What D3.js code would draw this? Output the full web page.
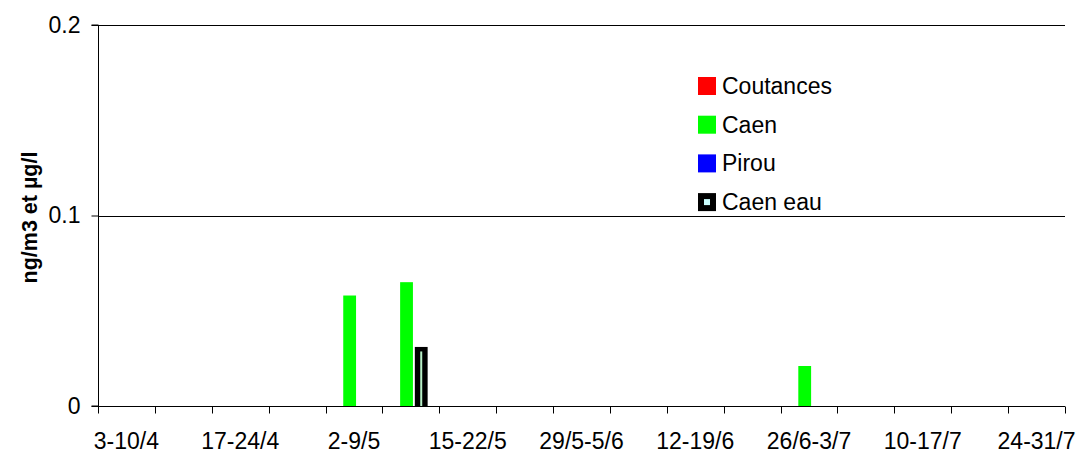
<!DOCTYPE html>
<html>
<head>
<meta charset="utf-8">
<script src="https://cdn.jsdelivr.net/npm/d3@7"></script>
<style>
  html, body { margin: 0; padding: 0; background: #fff; }
  svg { display: block; font-family: 'Liberation Sans', Arial, sans-serif; }
</style>
</head>
<body>
<svg id="chart" width="1077" height="452"></svg>
<script>
// weekly sampling periods (only every other one is labelled on the axis)
const categories = ['3-10/4','10-17/4','17-24/4','24/4-1/5','2-9/5','9-15/5','15-22/5','22-29/5',
  '29/5-5/6','5-12/6','12-19/6','19-26/6','26/6-3/7','3-10/7','10-17/7','17-24/7','24-31/7'];
const shownLabels = ['3-10/4','17-24/4','2-9/5','15-22/5','29/5-5/6','12-19/6','26/6-3/7','10-17/7','24-31/7'];

const coutances = [0,0,0,0,0,0,0,0,0,0,0,0,0,0,0,0,0];
const caen      = [0,0,0,0,0.058,0.065,0,0,0,0,0,0,0.021,0,0,0,0];
const pirou     = [0,0,0,0,0,0,0,0,0,0,0,0,0,0,0,0,0];
const caenEau   = [0,0,0,0,0,0.031,0,0,0,0,0,0,0,0,0,0,0];

const seriesNames = ['Coutances','Caen','Pirou','Caen eau'];
const yTicks = [0, 0.1, 0.2];

(function(){
  const svg = d3.select('#chart');
  const left = 98, right = 1065, top = 25, bottom = 406;

  const x = d3.scaleBand().domain(categories).range([left, right]).padding(0);
  const y = d3.scaleLinear().domain([0, 0.2]).range([bottom, top]);

  // bar slots inside a week; "Caen eau" sits in the Pirou slot as in the original
  const bw = x.bandwidth();
  const slot = d3.scaleBand().domain(['Coutances','Caen','Pirou'])
    .range([bw*0.053, bw*0.053 + bw*0.742]).paddingInner(0.129).paddingOuter(0);
  const slotOf = { 'Coutances':'Coutances', 'Caen':'Caen', 'Pirou':'Pirou', 'Caen eau':'Pirou' };

  const series = [
    { name:'Coutances', values: coutances, color:'#ff0000' },
    { name:'Caen',      values: caen,      color:'#00ff00' },
    { name:'Pirou',     values: pirou,     color:'#0000ff' },
    { name:'Caen eau',  values: caenEau,   color:'#ccffff', outline:true }
  ];

  // gridlines
  svg.append('g').selectAll('line')
    .data(yTicks.filter(d => d > 0))
    .enter().append('line')
    .attr('x1', left).attr('x2', right)
    .attr('y1', d => Math.round(y(d)) + 0.5).attr('y2', d => Math.round(y(d)) + 0.5)
    .attr('stroke', '#000').attr('stroke-width', 1);

  // bars
  series.forEach(s => {
    const g = svg.append('g');
    const data = s.values.map((v, i) => ({ cat: categories[i], v })).filter(d => d.v > 0);
    g.selectAll('rect.outer')
      .data(data).enter().append('rect')
      .attr('x', d => x(d.cat) + slot(slotOf[s.name]))
      .attr('y', d => y(d.v))
      .attr('width', slot.bandwidth())
      .attr('height', d => y(0) - y(d.v))
      .attr('fill', s.outline ? '#000' : s.color);
    if (s.outline) {
      const inset = 5.4;
      g.selectAll('rect.inner')
        .data(data).enter().append('rect')
        .attr('x', d => x(d.cat) + slot(slotOf[s.name]) + inset)
        .attr('y', d => y(d.v) + 4.5)
        .attr('width', slot.bandwidth() - 2*inset)
        .attr('height', d => y(0) - y(d.v) - 4.5)
        .attr('fill', '#b8f0c8');
    }
  });

  // y axis
  const yAxis = d3.axisLeft(y).tickValues(yTicks).tickSize(7).tickPadding(11)
    .tickFormat(d => d === 0 ? '0' : d3.format('.1f')(d));
  const gy = svg.append('g').attr('transform', `translate(${left + 0.5},0)`).call(yAxis);
  gy.select('.domain').attr('stroke', '#000').attr('d', `M-7,${top}H0V${bottom}H-7`);
  gy.selectAll('.tick line').attr('stroke', '#000');
  gy.selectAll('.tick text').attr('font-size', 23).attr('font-family', "'Liberation Sans', Arial").attr('fill', '#000');

  // x axis: boundary ticks + centred labels
  const gx = svg.append('g').attr('transform', `translate(0,${bottom + 0.5})`);
  gx.append('line').attr('x1', left).attr('x2', right).attr('stroke', '#000');
  const bounds = categories.map(c => x(c)).concat([right]);
  gx.selectAll('line.tk').data(bounds).enter().append('line')
    .attr('class', 'tk')
    .attr('x1', d => Math.round(d) + 0.5).attr('x2', d => Math.round(d) + 0.5)
    .attr('y1', 0).attr('y2', 7).attr('stroke', '#000');
  gx.selectAll('text').data(shownLabels).enter().append('text')
    .attr('x', d => x(d) + bw/2)
    .attr('y', 42)
    .attr('text-anchor', 'middle')
    .attr('font-size', 23)
    .attr('fill', '#000')
    .text(d => d);

  // y axis title
  svg.append('text')
    .attr('transform', `translate(37,${(top + bottom)/2 + 2}) rotate(-90)`)
    .attr('text-anchor', 'middle')
    .attr('font-size', 21.5)
    .attr('font-weight', 'bold')
    .attr('fill', '#000')
    .text('ng/m3 et µg/l');

  // legend
  const lg = svg.append('g').attr('transform', 'translate(698,77)');
  const rows = lg.selectAll('g').data(series).enter().append('g')
    .attr('transform', (d, i) => `translate(0,${i*38.7})`);
  rows.append('rect')
    .attr('width', 18).attr('height', 18)
    .attr('fill', d => d.outline ? '#000' : d.color);
  rows.filter(d => d.outline).append('rect')
    .attr('x', 6).attr('y', 6).attr('width', 6).attr('height', 6)
    .attr('fill', d => d.color);
  rows.append('text')
    .attr('x', 24).attr('y', 17)
    .attr('font-size', 23)
    .attr('fill', '#000')
    .text(d => d.name);
})();
</script>
</body>
</html>
